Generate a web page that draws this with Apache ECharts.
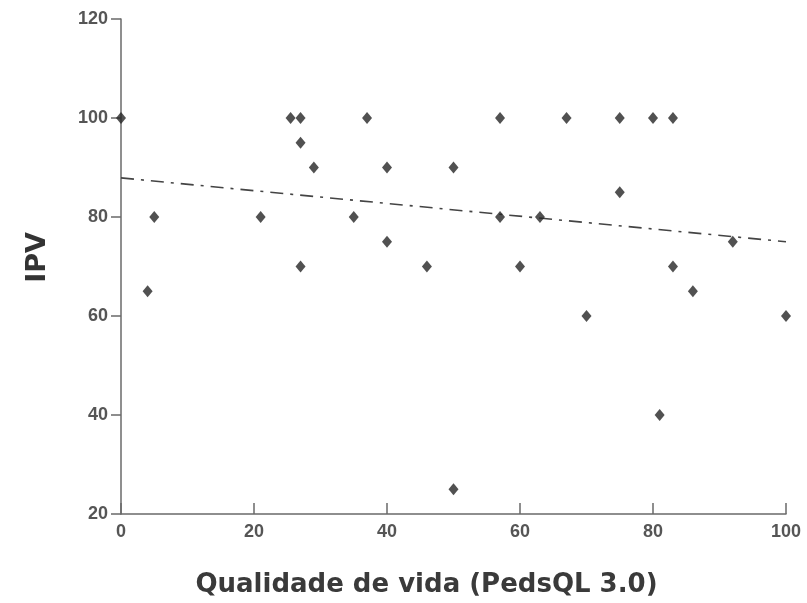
<!DOCTYPE html>
<html>
<head>
<meta charset="utf-8">
<script src="https://cdn.jsdelivr.net/npm/echarts@6/dist/echarts.min.js"></script>
<style>
  html, body { margin: 0; padding: 0; background: #fff; }
  #chart { width: 807px; height: 603px; }
</style>
</head>
<body>
<div id="chart"></div>
<script>
// Scatter: quality of life vs IPV, with a fitted trend line.
const qualidade = [0, 4, 5, 21, 25.5, 27, 27, 29, 27, 35, 37, 40, 40, 46, 50, 50, 57, 57, 60, 63, 67, 70, 75, 75, 80, 83, 81, 83, 86, 92, 100];
const ipv =       [100, 65, 80, 80, 100, 100, 95, 90, 70, 80, 100, 90, 75, 70, 90, 25, 100, 80, 70, 80, 100, 60, 100, 85, 100, 100, 40, 70, 65, 75, 60];
const trendX = [0, 100];
const trendY = [87.9, 75];
const yTicks = [20, 40, 60, 80, 100, 120];

const chart = echarts.init(document.getElementById("chart"));
const axisColor = "#6a6a6a";
const labelColor = "#555";

chart.setOption({
    backgroundColor: "#fff",
    animation: false,
    grid: { left: 121, right: 21, top: 19, bottom: 88 },
    xAxis: {
        type: "value",
        min: 0,
        max: 100,
        interval: 20,
        name: "Qualidade de vida (PedsQL 3.0)",
        nameLocation: "middle",
        nameGap: 58,
        nameTextStyle: {
            color: "#3a3a3a", fontSize: 26, fontWeight: "bold", fontFamily: "DejaVu Sans",
            padding: [0, 54, 0, 0]
        },
        axisLine: { lineStyle: { color: axisColor, width: 1.5 } },
        axisTick: { inside: true, length: 11, lineStyle: { color: axisColor, width: 1.5 } },
        axisLabel: { color: labelColor, fontSize: 18, fontWeight: "bold", fontFamily: "Liberation Sans", margin: 9 },
        splitLine: { show: false }
    },
    yAxis: {
        type: "value",
        min: yTicks[0],
        max: yTicks[yTicks.length - 1],
        interval: 20,
        name: "IPV",
        nameLocation: "middle",
        nameGap: 70,
        nameTextStyle: {
            color: "#333", fontSize: 27, fontWeight: "bold", fontFamily: "DejaVu Sans",
            padding: [0, 0, 0, 18]
        },
        axisLine: { show: true, lineStyle: { color: axisColor, width: 1.5 } },
        axisTick: { show: true, length: 10, lineStyle: { color: axisColor, width: 1.5 } },
        axisLabel: { color: labelColor, fontSize: 18, fontWeight: "bold", fontFamily: "Liberation Sans", margin: 13 },
        splitLine: { show: false }
    },
    series: [
        {
            type: "line",
            data: trendX.map((x, i) => [x, trendY[i]]),
            symbol: "none",
            lineStyle: { color: "#444", width: 1.6, type: [13, 7, 3, 7] },
            z: 1
        },
        {
            type: "scatter",
            data: qualidade.map((x, i) => [x, ipv[i]]),
            symbol: "diamond",
            symbolSize: [10, 12],
            itemStyle: { color: "#262626" },
            z: 2
        }
    ]
});
</script>
</body>
</html>
